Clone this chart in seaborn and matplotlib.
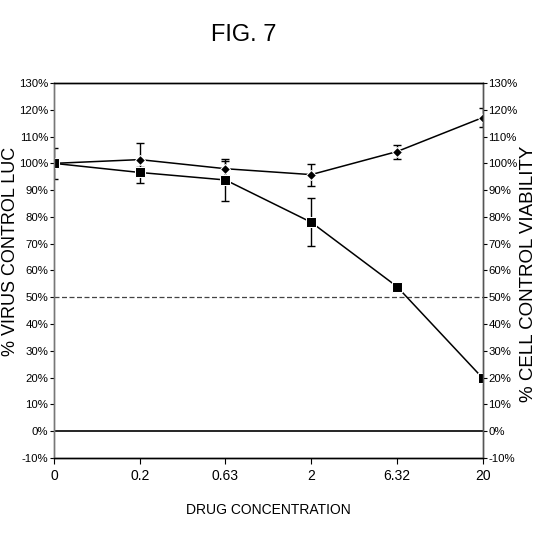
import pandas as pd
import numpy as np
import seaborn as sns
import matplotlib.pyplot as plt

sns.set_style('ticks')
plt.rcParams['font.family'] = ['Liberation Sans', 'DejaVu Sans']
plt.rcParams['text.color'] = 'black'
plt.rcParams['axes.labelcolor'] = 'black'
plt.rcParams['xtick.color'] = 'black'
plt.rcParams['ytick.color'] = 'black'

conc = ['0', '0.2', '0.63', '2', '6.32', '20']
virus = [100, 96.6, 93.8, 78, 54, 19.8]
virus_lo = [100, 92.7, 86, 69.2, 53, 19.8]
virus_hi = [100, 98.5, 101, 87, 55, 19.8]
cell = [100, 101.4, 98, 95.8, 104.4, 117.1]
cell_lo = [94, 98, 95, 91.7, 101.6, 113.5]
cell_hi = [105.7, 107.7, 101.6, 99.8, 107, 120.5]

pos = np.arange(len(conc))
df = pd.DataFrame({'pos': pos, 'virus': virus, 'cell': cell})

fig = plt.figure(figsize=(5.36, 5.39), dpi=100)
ax = fig.add_axes([0.1007, 0.1503, 0.7999, 0.6957])

ax.axhline(50, color='#444444', lw=0.9, ls=(0, (4, 2)), zorder=1)
ax.axhline(0, color='black', lw=1.2, zorder=1)

ax.errorbar(pos, cell, yerr=[np.array(cell) - np.array(cell_lo), np.array(cell_hi) - np.array(cell)],
            fmt='none', ecolor='black', elinewidth=1, capsize=3, zorder=2)
ax.errorbar(pos, virus, yerr=[np.array(virus) - np.array(virus_lo), np.array(virus_hi) - np.array(virus)],
            fmt='none', ecolor='black', elinewidth=1, capsize=3, zorder=2)
sns.lineplot(data=df, x='pos', y='cell', marker='D', markersize=5, color='black', lw=1.1, ax=ax, zorder=3)
sns.lineplot(data=df, x='pos', y='virus', marker='s', markersize=7, color='black', lw=1.1, ax=ax, zorder=3)

ax.set_xlim(0, 5)
ax.set_ylim(-10, 130)
ticks = np.arange(-10, 131, 10)
ax.set_yticks(ticks)
ax.set_yticklabels([f'{t}%' for t in ticks], fontsize=8.2)
ax.set_xticks(pos)
ax.set_xticklabels(conc, fontsize=10)
ax.set_xlabel('DRUG CONCENTRATION', fontsize=10)
ax.xaxis.set_label_coords(0.5, -0.12)
ax.set_ylabel('% VIRUS CONTROL LUC', fontsize=13)
ax.yaxis.set_label_coords(-0.082, 0.55)
ax.tick_params(axis='y', length=3, width=0.8, pad=1)
ax.tick_params(axis='x', length=4, width=0.8, pad=4)

ax2 = ax.twinx()
ax2.set_ylim(-10, 130)
ax2.set_yticks(ticks)
ax2.set_yticklabels([f'{t}%' for t in ticks], fontsize=8.2)
ax2.set_ylabel('% CELL CONTROL VIABILITY', fontsize=13.5)
ax2.yaxis.set_label_coords(1.088, 0.49)
ax2.tick_params(axis='y', length=3, width=0.8, pad=1)

for a in (ax, ax2):
    for s in a.spines.values():
        s.set_linewidth(1.0)
        s.set_color('black')
    a.spines['left'].set_color('#777777')
    a.spines['right'].set_color('#555555')

fig.text(0.455, 0.935, 'FIG. 7', ha='center', va='center', fontsize=17)

fig.savefig('out.png', dpi=100, facecolor='white')
